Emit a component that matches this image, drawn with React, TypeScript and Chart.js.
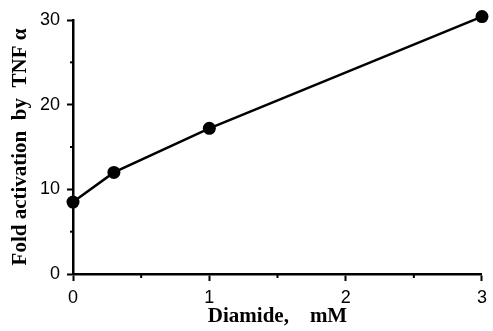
import React, { useEffect, useRef } from "react";
import { Chart, registerables } from "chart.js";

Chart.register(...registerables);

const diamideMM = [0, 0.3, 1, 3];
const foldActivation = [8.5, 12.0, 17.2, 30.4];
const xMajorTicks = [0, 1, 2, 3];
const xMinorTicks = [0.5, 1.5, 2.5];
const yMajorTicks = [0, 10, 20, 30];
const yMinorTicks = [5, 15, 25];
const xTitle = "Diamide,    mM";
const yTitle = "Fold activation  by  TNF α";

const minorTicksPlugin = {
  id: "minorTicks",
  afterDraw(chart: any) {
    const ctx = chart.ctx;
    const xs = chart.scales.x;
    const ys = chart.scales.y;
    const area = chart.chartArea;
    ctx.save();
    ctx.strokeStyle = "#000";
    ctx.lineWidth = 2;
    xMinorTicks.forEach((v) => {
      const px = xs.getPixelForValue(v);
      ctx.beginPath();
      ctx.moveTo(px, area.bottom);
      ctx.lineTo(px, area.bottom + 4);
      ctx.stroke();
    });
    yMinorTicks.forEach((v) => {
      const py = ys.getPixelForValue(v);
      ctx.beginPath();
      ctx.moveTo(area.left, py);
      ctx.lineTo(area.left - 3, py);
      ctx.stroke();
    });
    ctx.restore();
  },
};

export default function App() {
  const ref = useRef<HTMLCanvasElement | null>(null);
  useEffect(() => {
    if (!ref.current) return;
    const chart = new Chart(ref.current, {
      type: "line",
      data: {
        datasets: [
          {
            data: diamideMM.map((x, i) => ({ x, y: foldActivation[i] })),
            borderColor: "#000",
            backgroundColor: "#000",
            borderWidth: 2.5,
            pointRadius: 6.5,
            pointBackgroundColor: "#000",
            pointBorderColor: "#000",
            pointBorderWidth: 0,
            tension: 0,
            clip: false as any,
          },
        ],
      },
      options: {
        responsive: false,
        animation: false,
        layout: { padding: { top: 20, right: 7, left: 0, bottom: 0 } },
        plugins: { legend: { display: false }, tooltip: { enabled: false } },
        scales: {
          x: {
            type: "linear",
            min: 0,
            max: 3,
            afterBuildTicks: (s: any) => {
              s.ticks = xMajorTicks.map((v) => ({ value: v }));
            },
            afterFit: (s: any) => {
              s.height = 57;
            },
            ticks: {
              color: "#000",
              font: { family: "'Liberation Sans', Arial, sans-serif", size: 18 },
              padding: 6,
              maxRotation: 0,
            },
            border: { display: true, color: "#000", width: 2.5 },
            grid: {
              display: true,
              drawOnChartArea: false,
              drawTicks: true,
              tickLength: 7,
              tickColor: "#000",
              tickWidth: 2,
            },
            title: {
              display: true,
              text: xTitle,
              color: "#000",
              font: { family: "'Liberation Serif', 'Times New Roman', serif", size: 21, weight: "bold", lineHeight: 1 },
              padding: { top: 0, bottom: 4 },
            },
          },
          y: {
            type: "linear",
            min: 0,
            max: 30,
            afterBuildTicks: (s: any) => {
              s.ticks = yMajorTicks.map((v) => ({ value: v }));
            },
            afterFit: (s: any) => {
              s.width = 73;
            },
            ticks: {
              color: "#000",
              font: { family: "'Liberation Sans', Arial, sans-serif", size: 18 },
              padding: 7,
            },
            border: { display: true, color: "#000", width: 2.5 },
            grid: {
              display: true,
              drawOnChartArea: false,
              drawTicks: true,
              tickLength: 6,
              tickColor: "#000",
              tickWidth: 2,
            },
            title: {
              display: true,
              text: yTitle,
              color: "#000",
              font: { family: "'Liberation Serif', 'Times New Roman', serif", size: 21, weight: "bold", lineHeight: 1 },
              padding: { top: 10, bottom: 0 },
            },
          },
        },
      },
      plugins: [minorTicksPlugin],
    });
    return () => chart.destroy();
  }, []);
  return (
    <div style={{ position: "absolute", left: 0, top: 0, width: 493, height: 331, background: "#fff" }}>
      <canvas ref={ref} width={493} height={331} style={{ display: "block" }} />
    </div>
  );
}
